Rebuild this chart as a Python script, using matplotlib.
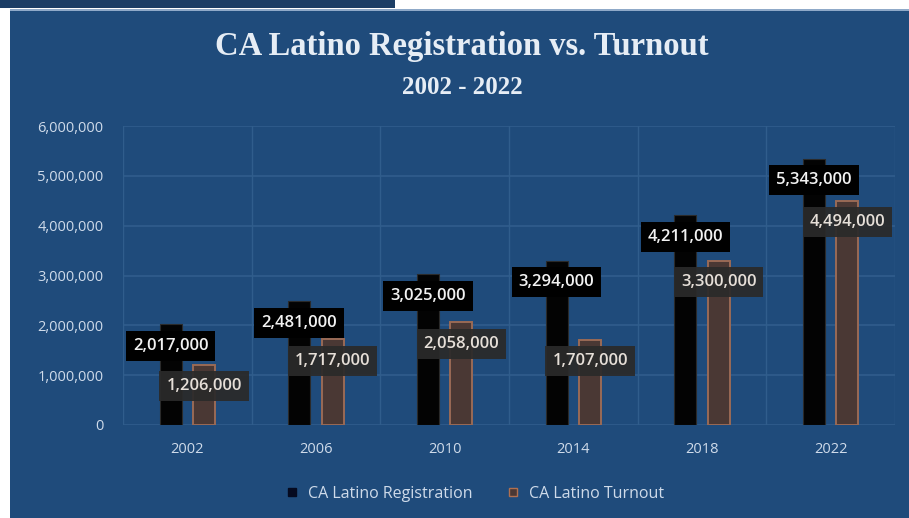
import matplotlib
matplotlib.use("Agg")
import matplotlib.pyplot as plt
from matplotlib.patches import Rectangle
from matplotlib.lines import Line2D
import numpy as np

years = ["2002", "2006", "2010", "2014", "2018", "2022"]
registration = [2017000, 2481000, 3025000, 3294000, 4211000, 5343000]
turnout = [1206000, 1717000, 2058000, 1707000, 3300000, 4494000]
series_names = ["CA Latino Registration", "CA Latino Turnout"]
yticks = [0, 1000000, 2000000, 3000000, 4000000, 5000000, 6000000]

BG = "#1f4b7b"
GRID = "#305d8c"
TXT = "#cfdbea"

fig = plt.figure(figsize=(9.09, 5.18), dpi=100)
fig.patch.set_facecolor("white")
# panel background and top strip
fig.add_artist(Rectangle((10/909, 0), 1 - 10/909, 1 - 10/518, transform=fig.transFigure,
                         facecolor=BG, edgecolor="none", zorder=0))
fig.add_artist(Rectangle((0, 1 - 8/518), 395/909, 8/518, transform=fig.transFigure,
                         facecolor="#1c3e66", edgecolor="none", zorder=0))
fig.add_artist(Rectangle((10/909, 1 - 11/518), 1 - 10/909, 2/518, transform=fig.transFigure,
                         facecolor="#8fa9c8", edgecolor="none", zorder=0))

ax = fig.add_axes([123/909, 1 - 425/518, (895 - 123)/909, (425 - 126)/518])
ax.set_facecolor("none")
x = np.arange(len(years))
w = 0.17
off = 0.13
ax.bar(x - off, registration, width=w, color="#030303", edgecolor="#2a2a2a", linewidth=0.8, zorder=3)
ax.bar(x + off, turnout, width=w, color="#4a3834", edgecolor="#9a6a55", linewidth=1.4, zorder=3)

for i in range(len(years)):
    ax.text(x[i] - off, registration[i] - 430000, f"{registration[i]:,}", ha="center", va="center",
            fontsize=12, fontweight="semibold", color="#f2f2f2", family="Open Sans", zorder=5,
            bbox=dict(boxstyle="square,pad=0.42", facecolor="#000000", edgecolor="none"))
    ax.text(x[i] + off, turnout[i] - 430000, f"{turnout[i]:,}", ha="center", va="center",
            fontsize=12, fontweight="semibold", color="#e6dfd8", family="Open Sans", zorder=6,
            bbox=dict(boxstyle="square,pad=0.42", facecolor="#2a2a2a", edgecolor="none", alpha=0.93))

ax.set_xlim(-0.5, len(years) - 0.5)
ax.set_ylim(0, 6000000)
ax.set_yticks(yticks)
ax.set_yticklabels([f"{v:,}" for v in yticks])
ax.set_xticks(x)
ax.set_xticklabels(years)
ax.set_xticks(np.arange(-0.5, len(years), 1), minor=True)
ax.grid(axis="y", color=GRID, linewidth=1.2, zorder=0)
ax.grid(axis="x", which="minor", color=GRID, linewidth=1.0, zorder=0)
ax.tick_params(axis="both", which="both", length=0, colors=TXT, labelsize=10.5)
ax.tick_params(axis="y", pad=14)
ax.tick_params(axis="x", pad=12)
for lab in ax.get_xticklabels() + ax.get_yticklabels():
    lab.set_family("Open Sans")
for s in ax.spines.values():
    s.set_visible(False)

fig.text(462/909, 1 - 46/518, "CA Latino Registration vs. Turnout", ha="center", va="center",
         fontsize=23.5, fontweight="bold", family="Liberation Serif", color="#e6edf5")
fig.text(462/909, 1 - 87/518, "2002 - 2022", ha="center", va="center",
         fontsize=18, fontweight="bold", family="Liberation Serif", color="#e6edf5")

handles = [Line2D([], [], marker="s", linestyle="none", markersize=6, markerfacecolor="#050a20",
                  markeredgecolor="#050a20"),
           Line2D([], [], marker="s", linestyle="none", markersize=6, markerfacecolor="#4a3834",
                  markeredgecolor="#b07050")]
leg = fig.legend(handles, series_names, loc="center", bbox_to_anchor=(470/909, 1 - 494/518), ncol=2,
                 frameon=False, handletextpad=0.0, columnspacing=1.5,
                 prop={"family": "Open Sans", "size": 11.5})
for t in leg.get_texts():
    t.set_color(TXT)

fig.savefig("out.png", dpi=100, facecolor=fig.get_facecolor())
